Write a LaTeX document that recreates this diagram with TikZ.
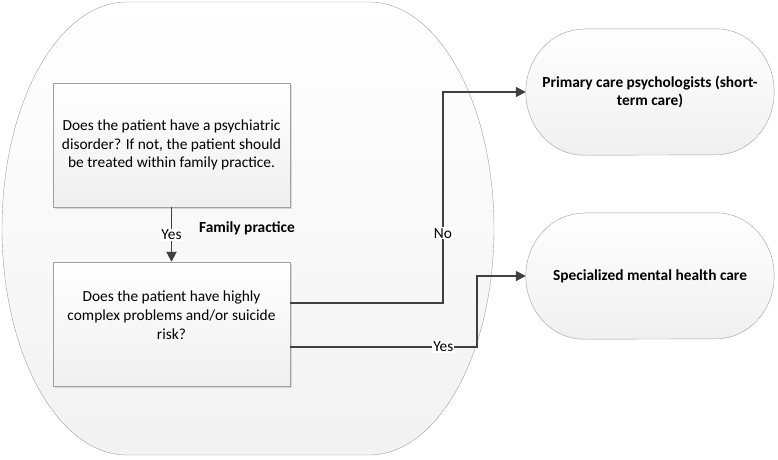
\documentclass[tikz,border=0pt]{standalone}
\usepackage{fontspec}
\setmainfont{Carlito}
\usetikzlibrary{arrows.meta,positioning,shadows,calc,backgrounds}

\definecolor{linegray}{HTML}{404040}
\definecolor{edgegray}{HTML}{A0A0A0}

% elliptical ends for the terminal nodes
\newcommand{\termoutline}[1]{%
  \begin{scope}[on background layer]
  \draw[edgegray,top color=white,bottom color=gray!12]
    ([xshift=58pt]#1.north west) -- ([xshift=-58pt]#1.north east)
    arc[start angle=90,end angle=-90,x radius=58pt,y radius=63pt]
    -- ([xshift=58pt]#1.south west)
    arc[start angle=270,end angle=90,x radius=58pt,y radius=63pt] -- cycle;
  \end{scope}}

\begin{document}
\begin{tikzpicture}[x=1pt,y=-1pt,>={Triangle[length=10pt,width=10pt]},
  font=\fontsize{15.4}{18.7}\selectfont,
  qbox/.style={draw=edgegray,top color=white,bottom color=gray!12,minimum width=237pt,minimum height=124pt,
    drop shadow={opacity=0.25,shadow xshift=2pt,shadow yshift=-2pt}},
  term/.style={minimum width=248pt,minimum height=126pt,align=center,font=\fontsize{15.4}{18.7}\selectfont\bfseries},
  conn/.style={->,linegray,line width=1.8pt},
  lbl/.style={fill=white,inner sep=1pt,text=black}]
  \useasboundingbox (0,0) rectangle (778,459);

  % family practice area
  \draw[edgegray,top color=white,bottom color=gray!10]
    (127,2) -- (369,2) arc[start angle=90,end angle=-90,x radius=125pt,y radius=226.5pt]
    -- (127,455) arc[start angle=270,end angle=90,x radius=125pt,y radius=226.5pt] -- cycle;

  \node[qbox] (q1) at (171.5,145) {};
  \node[align=center] (t1) at (q1.center) {Does the patient have a psychiatric\\disorder? If not, the patient should\\be treated within family practice.};
  \node[qbox] (q2) at (171.5,324) {};
  \node[align=center] (t2) at ([yshift=9pt]q2.center) {Does the patient have highly\\complex problems and/or suicide\\risk?};
  \node[font=\fontsize{15.4}{18.7}\selectfont\bfseries] (fp) at (247,228) {Family practice};

  \node[term] (pc) at (650,92) {Primary care psychologists (short-\\term care)};
  \termoutline{pc}
  \node[term] (sm) at (650,276) {Specialized mental health care};
  \termoutline{sm}

  \coordinate (n1) at (443,303);
  \coordinate (y1) at (477,347);
  \draw[conn] (q1.south) -- node[lbl] {Yes} (q2.north);
  \draw[conn] (q2.east |- n1) -- (n1) -- node[lbl,pos=0.33] {No} (n1 |- pc.west) -- (pc.west);
  \draw[conn] (q2.east |- y1) -- node[lbl,pos=0.82] {Yes} (y1) -- (y1 |- sm.west) -- (sm.west);
\end{tikzpicture}
\end{document}
